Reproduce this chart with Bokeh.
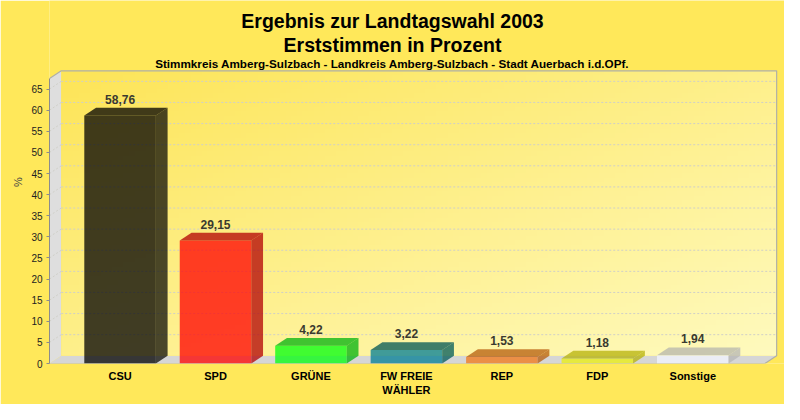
import numpy as np
from bokeh.plotting import figure
from bokeh.models import Range1d, FixedTicker
from bokeh.core.properties import value
from bokeh.embed import file_html
from bokeh.resources import INLINE

# ---- data ----
parties = ["CSU", "SPD", "GRÜNE", "FW FREIE\nWÄHLER", "REP", "FDP", "Sonstige"]
percent = [58.76, 29.15, 4.22, 3.22, 1.53, 1.18, 1.94]
y_ticks = list(range(0, 70, 5))
title_lines = ["Ergebnis zur Landtagswahl 2003", "Erststimmen in Prozent",
               "Stimmkreis Amberg-Sulzbach - Landkreis Amberg-Sulzbach - Stadt Auerbach i.d.OPf."]
y_label = "%"

# ---- styles ----
front_colors = ["#000000", "#ff0000", "#00ff0d", "#007d96", "#f17717", "#ebef0c", "#f1f4ff"]
top_colors = ["#000000", "#b10003", "#00b30d", "#005555", "#b55c0c", "#b5b109", "#b5b5ad"]
side_colors = ["#0d0d08", "#b10003", "#00b30d", "#005a5a", "#b55c0c", "#b5b109", "#b5b5b5"]
FONT = "Liberation Sans"
BG = "#ffe85a"

# geometry helpers (reference pixels -> data units)
PX = 97.4      # px per category
PY = 4.385     # px per percent
dx = 12 / PX
dy = 8 / PY
half = 36.5 / PX
xl = -72 / PX             # front-left edge of the plot box
xw = (792 - 122) / PX     # back-right edge of the plot box
x_end = (800 - 122) / PX  # right end of drawing area
wall_top = 304 / PY
y_end = 377 / PY          # top end of drawing area (titles live here)

p = figure(width=784, height=404, x_range=Range1d(xl, x_end), y_range=Range1d(0, y_end),
           output_backend="svg", toolbar_location=None, title=None,
           min_border_left=49, min_border_right=0, min_border_top=0, min_border_bottom=41)
p.background_fill_color = BG
p.border_fill_color = BG
p.outline_line_color = None
p.grid.visible = False

# floor & left wall
p.patch([xl, xw - dx, xw, xl + dx], [0, 0, dy, dy], fill_color="#d6d6d6", line_color=None)
p.patch([xl, xl + dx, xl + dx, xl], [0, dy, wall_top, wall_top - dy], fill_color="#dedede", line_color=None)

# back wall gradient
nx, ny = 128, 64
u = np.linspace(0, 1, nx)[None, :]
w = np.linspace(0, 1, ny)[:, None]
t = (u + (1 - w)) / 2
c0 = np.array([253, 229, 88], dtype=float)
c1 = np.array([255, 250, 190], dtype=float)
img = np.empty((ny, nx), dtype=np.uint32)
view = img.view(dtype=np.uint8).reshape((ny, nx, 4))
for k in range(3):
    view[:, :, k] = (c0[k] + (c1[k] - c0[k]) * t).astype(np.uint8)
view[:, :, 3] = 255
p.image_rgba(image=[img], x=xl + dx, y=dy, dw=xw - (xl + dx), dh=wall_top - dy)

# grid lines
gx, gy = [], []
for tk in y_ticks[1:]:
    gx.append([xl + dx, xw]); gy.append([tk + dy, tk + dy])
    gx.append([xl, xl + dx]); gy.append([tk, tk + dy])
p.multi_line(gx, gy, line_color="#cfcfc8", line_width=1, line_dash="2 2")

# outline of the box
p.line([xl, xl + dx, xw, xw, xw - dx], [wall_top - dy, wall_top, wall_top, dy, 0],
       line_color="#b0b0a8", line_width=1.2)
p.line([xl, xw - dx], [0, 0], line_color="#b8b8b8", line_width=1)

# bars
idx = list(range(len(parties)))
p.quad(left=[i - half for i in idx], right=[i + half for i in idx], bottom=0, top=percent,
       fill_color=front_colors, fill_alpha=0.75, line_color=None)
top_xs, top_ys, side_xs, side_ys = [], [], [], []
for i, v in zip(idx, percent):
    top_xs.append([i - half, i + half, i + half + dx, i - half + dx])
    top_ys.append([v, v, v + dy, v + dy])
    side_xs.append([i + half, i + half + dx, i + half + dx, i + half])
    side_ys.append([0, dy, v + dy, v])
p.patches(top_xs, top_ys, fill_color=top_colors, fill_alpha=0.75, line_color=None)
p.patches(side_xs, side_ys, fill_color=side_colors, fill_alpha=0.75, line_color=None)

# value labels
labels = [f"{v:.2f}".replace(".", ",") for v in percent]
p.text(x=idx, y=[v + dy + 9 / PY for v in percent], text=labels, text_align="center",
       text_baseline="alphabetic", text_font=value(FONT),
       text_font_size="12px", text_font_style="bold", text_color="#3a3a30")

# titles (drawn inside the extended drawing area)
xc = (400 - 122) / PX
p.text(x=[xc, xc, xc], y=[(377 - 21) / PY, (377 - 46) / PY, (377 - 65) / PY], text=title_lines,
       text_align="center", text_baseline="alphabetic", text_font=value(FONT),
       text_font_size=["19.5px", "19.5px", "11.7px"], text_font_style="bold", text_color="#000000")

# axes
p.yaxis.ticker = FixedTicker(ticks=y_ticks)
p.yaxis.bounds = (0, 296 / PY)
p.yaxis.axis_line_color = "#8c8c8c"
p.yaxis.major_tick_line_color = "#8c8c8c"
p.yaxis.major_tick_out = 3
p.yaxis.major_tick_in = 0
p.yaxis.minor_tick_line_color = None
p.yaxis.major_label_text_font = FONT
p.yaxis.major_label_text_font_size = "10px"
p.yaxis.major_label_text_color = "#222222"
p.yaxis.major_label_standoff = 4
p.yaxis.axis_label = y_label
p.yaxis.axis_label_text_font = FONT
p.yaxis.axis_label_text_font_size = "11px"
p.yaxis.axis_label_text_font_style = "normal"
p.yaxis.axis_label_standoff = 4

p.xaxis.ticker = FixedTicker(ticks=idx)
p.xaxis.major_label_overrides = {i: parties[i] for i in idx}
p.xaxis.axis_line_color = None
p.xaxis.major_tick_line_color = None
p.xaxis.minor_tick_line_color = None
p.xaxis.major_label_text_font = FONT
p.xaxis.major_label_text_font_size = "11px"
p.xaxis.major_label_text_font_style = "bold"
p.xaxis.major_label_text_color = "#000000"
p.xaxis.major_label_standoff = 0

open("out.html", "w").write(file_html(p, INLINE))
